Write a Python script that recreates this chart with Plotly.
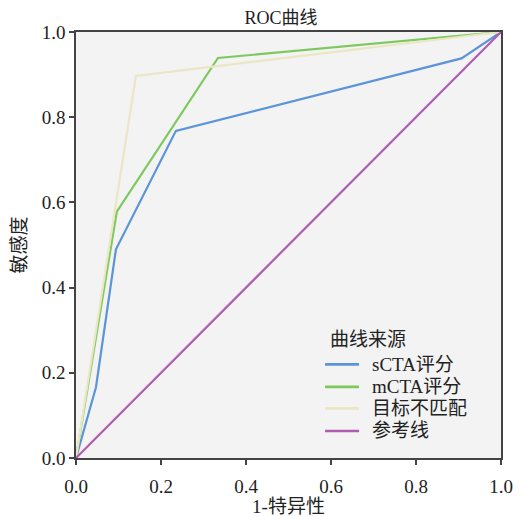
import plotly.graph_objects as go

series_names = ["sCTA评分", "mCTA评分", "目标不匹配", "参考线"]
legend_title = "曲线来源"
s_x = [0.0, 0.047, 0.094, 0.235, 0.907, 1.0]
s_y = [0.0, 0.166, 0.490, 0.768, 0.938, 1.0]
m_x = [0.0, 0.096, 0.334, 1.0]
m_y = [0.0, 0.578, 0.939, 1.0]
t_x = [0.0, 0.141, 1.0]
t_y = [0.0, 0.897, 1.0]
r_x = [0.0, 1.0]
r_y = [0.0, 1.0]
colors = ["#5b94d8", "#7dc95e", "#ebe6c4", "#b05db0"]
ticks = [0.0, 0.2, 0.4, 0.6, 0.8, 1.0]
tick_text = ["0.0", "0.2", "0.4", "0.6", "0.8", "1.0"]

FONT = "Liberation Serif, Times New Roman, Noto Sans CJK SC, serif"
TXT = "#222222"

fig = go.Figure()
for name, xs, ys, c in zip(series_names, [s_x, m_x, t_x, r_x], [s_y, m_y, t_y, r_y], colors):
    fig.add_trace(go.Scatter(x=xs, y=ys, mode="lines", name=name,
                             line=dict(color=c, width=2.2), showlegend=False))

# legend drawn inside the plot area (paper coords)
leg_x0, leg_x1, leg_tx = 0.586, 0.666, 0.691
leg_title_y = 0.277
leg_item_y = [0.2197, 0.167, 0.1166, 0.0634]
fig.add_annotation(x=0.592, y=leg_title_y, xref="paper", yref="paper",
                   text=legend_title, showarrow=False, xanchor="left", yanchor="middle",
                   font=dict(family=FONT, size=19, color=TXT))
for name, c, yy in zip(series_names, colors, leg_item_y):
    fig.add_shape(type="line", xref="paper", yref="paper", x0=leg_x0, x1=leg_x1,
                  y0=yy, y1=yy, line=dict(color=c, width=2.6))
    fig.add_annotation(x=leg_tx, y=yy, xref="paper", yref="paper", text=name,
                       showarrow=False, xanchor="left", yanchor="middle",
                       font=dict(family=FONT, size=19, color=TXT))

axis_common = dict(range=[0, 1], tickvals=ticks, ticktext=tick_text,
                   showgrid=False, zeroline=False, showline=True, mirror=True,
                   linecolor="#444444", linewidth=1.5, ticks="outside",
                   ticklen=5, tickcolor="#444444", tickwidth=1.5, automargin=False,
                   tickfont=dict(family=FONT, size=19, color=TXT))

fig.update_layout(
    width=514, height=509,
    margin=dict(l=68, r=21, t=24, b=59),
    paper_bgcolor="white", plot_bgcolor="#f3f3f3",
    title=dict(text="ROC曲线", x=0.531, xanchor="center", y=0.981, yanchor="middle",
               font=dict(family=FONT, size=18, color=TXT)),
    xaxis=dict(title=dict(text="1-特异性", font=dict(family=FONT, size=19, color=TXT), standoff=10),
               ticklabelstandoff=5, **axis_common),
    yaxis=dict(title=dict(text="敏感度", font=dict(family=FONT, size=19, color=TXT), standoff=10),
               **axis_common),
    showlegend=False,
)

fig.write_html("out.html")
